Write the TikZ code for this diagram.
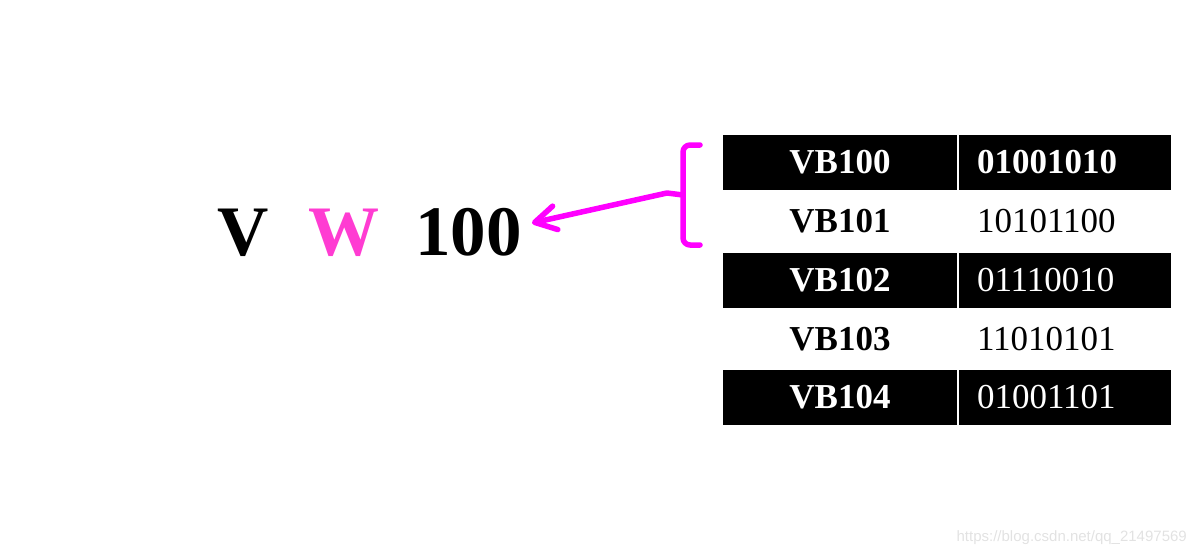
\documentclass[tikz,border=0pt]{standalone}
\usepackage{fontspec}
\setmainfont{Liberation Serif}
\newfontfamily\wmfont{Liberation Sans}
\usetikzlibrary{arrows.meta}
\definecolor{wpink}{HTML}{FF3CD2}
\definecolor{mag}{HTML}{FF00FF}
\definecolor{wm}{HTML}{E2E2E2}
\tikzset{
  cellbase/.style={minimum height=55pt, text height=23pt, text depth=0pt, inner ysep=0pt,
    font=\fontsize{35}{42}\selectfont},
  namecell/.style={cellbase, minimum width=234pt, inner xsep=0pt, font=\fontsize{35}{42}\selectfont\bfseries},
  codecell/.style={cellbase, text width=176pt, inner xsep=18pt, align=left},
  dark/.style={fill=black, text=white},
  big/.style={inner sep=0pt, anchor=base west, font=\fontsize{71}{84}\selectfont\bfseries},
  magline/.style={draw=mag, line width=5.5pt, line cap=round, line join=round}
}
\begin{document}
\begin{tikzpicture}[x=1pt,y=-1pt]
\useasboundingbox (0,0) rectangle (1194,554);
% big text
\node[big] (v) at (217,255) {V};
\node[big, text=wpink] (w) at (308,255) {W};
\node[big] (n100) at (415,255) {100};
% table
\node[namecell, dark] (a1) at (840,162) {VB100};
\node[codecell, dark] (b1) at (1065,162) {\textbf{01001010}};
\node[namecell] (a2) at (840,221) {VB101};
\node[codecell] (b2) at (1065,221) {10101100};
\node[namecell, dark] (a3) at (840,280) {VB102};
\node[codecell, dark] (b3) at (1065,280) {01110010};
\node[namecell] (a4) at (840,338.5) {VB103};
\node[codecell] (b4) at (1065,338.5) {11010101};
\node[namecell, dark] (a5) at (840,397) {VB104};
\node[codecell, dark] (b5) at (1065,397) {01001101};
% bracket and arrow
\coordinate (btop) at (700,145);
\coordinate (bbot) at (700,245);
\coordinate (bmid) at (683,195);
\coordinate (tip) at (532,223);
\draw[magline, rounded corners=7pt] (btop) -- (683,145) -- (683,245) -- (bbot);
\draw[magline, -{Straight Barb[length=21pt, width=24pt, round]}] (bmid) -- (667,193) -- (tip);
% watermark
\node[anchor=base east, inner sep=0pt, text=wm, font=\wmfont\fontsize{15}{18}\selectfont] (wmk) at (1187,541) {https://blog.csdn.net/qq\_21497569};
\end{tikzpicture}
\end{document}
